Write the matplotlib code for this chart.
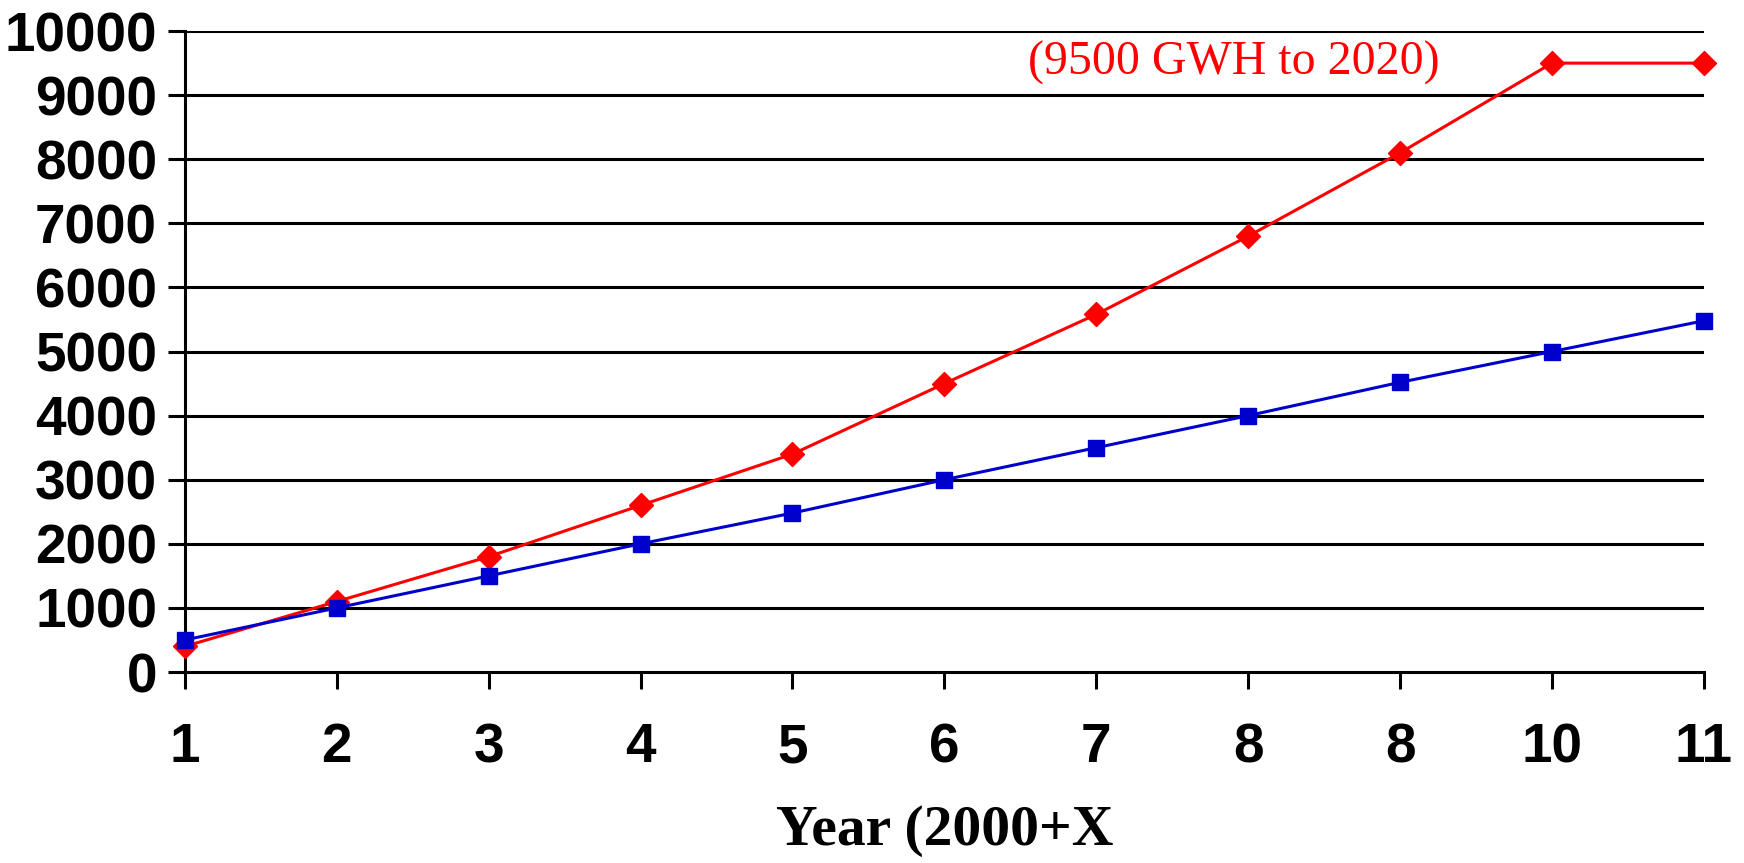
import matplotlib.pyplot as plt
import numpy as np

# Данные: прогноз (красный) и фактический рост (синий)
years = np.arange(1, 12)
year_labels = ['1', '2', '3', '4', '5', '6', '7', '8', '8', '10', '11']
red_vals = [400, 1100, 1800, 2600, 3400, 4500, 5580, 6800, 8100, 9500, 9500]
blue_vals = [500, 1000, 1500, 2000, 2480, 3000, 3500, 4000, 4520, 5000, 5480]

fig = plt.figure(figsize=(17.44, 8.63), dpi=100)
ax = fig.add_axes([0.106, 0.2213, 0.871, 0.7427])

ax.plot(years, red_vals, color='#ff0000', lw=2.2, marker='D', markersize=12,
        clip_on=False, zorder=3)
ax.plot(years, blue_vals, color='#0000cc', lw=2.2, marker='s', markersize=12,
        clip_on=False, zorder=4)

ax.set_xlim(1, 11)
ax.set_ylim(0, 10000)
ax.set_yticks(np.arange(0, 10001, 1000))
ax.set_xticks(years)
ax.set_xticklabels(year_labels)

for v in np.arange(1000, 10001, 1000):
    ax.axhline(v, color='black', lw=2.2, zorder=1)

for s in ['top', 'right']:
    ax.spines[s].set_visible(False)
ax.spines['left'].set_linewidth(2.2)
ax.spines['bottom'].set_linewidth(2.2)

ax.tick_params(axis='both', direction='out', length=12, width=2.2,
               labelsize=39.5, pad=8)
ax.tick_params(axis='x', pad=24)
for lab in ax.get_xticklabels() + ax.get_yticklabels():
    lab.set_fontweight('bold')
    lab.set_family('Liberation Sans')

ax.set_xlabel('Year (2000+X', fontsize=41.5, fontweight='bold',
              family='Liberation Serif', labelpad=22)

ax.text(6.55, 9500, '(9500 GWH to 2020)', color='#ff0000', fontsize=34.5,
        family='Liberation Serif', va='center', ha='left')

plt.savefig('out.png')
